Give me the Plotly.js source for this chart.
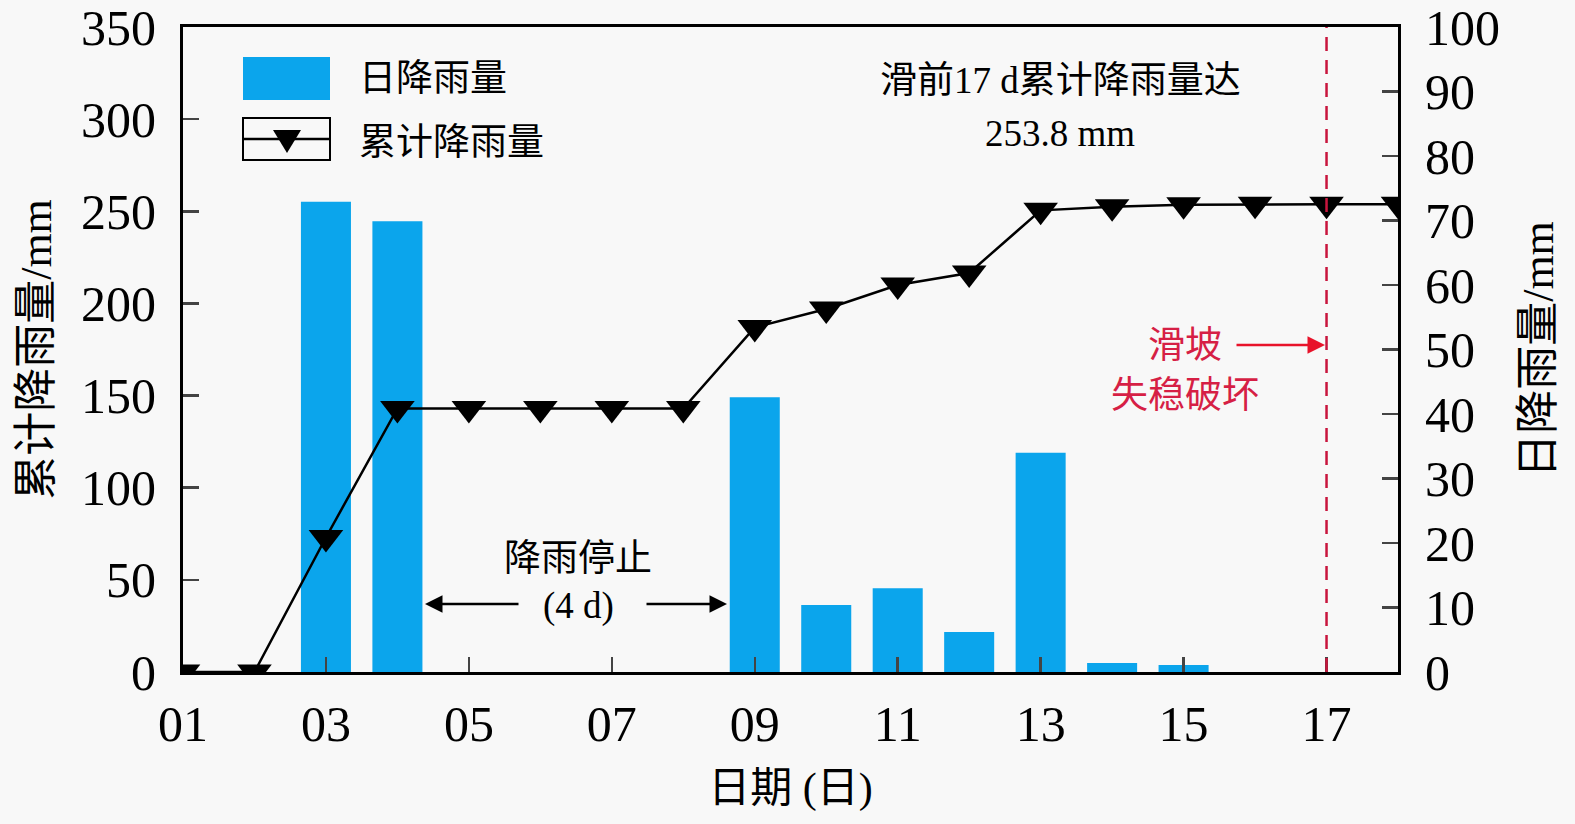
<!DOCTYPE html>
<html>
<head>
<meta charset="utf-8">
<script src="https://cdn.plot.ly/plotly-3.0.1.min.js"></script>
<style>
  html, body { margin: 0; padding: 0; background: #f8f8f8; }
  #chart { width: 1575px; height: 824px; }
</style>
</head>
<body>
<div id="chart"></div>
<script>
// days of the month
var days = [1, 2, 3, 4, 5, 6, 7, 8, 9, 10, 11, 12, 13, 14, 15, 16, 17, 18];
// daily rainfall (mm), right axis
var dailyRain = [0, 0, 72.9, 69.9, 0, 0, 0, 0, 42.6, 10.4, 13.0, 6.2, 34.0, 1.4, 1.1, 0, 0, 0];
// cumulative rainfall (mm), left axis
var cumRain = [0, 0, 73, 143, 143, 143, 143, 143, 187, 197, 210, 216.5, 250.5, 252.5, 253.5, 253.8, 253.8, 253.8];
var xTickVals = [1, 3, 5, 7, 9, 11, 13, 15, 17];
var xTickText = ['01', '03', '05', '07', '09', '11', '13', '15', '17'];
var failureDay = 17;

var FONT = 'Liberation Serif, "Noto Sans CJK SC", serif';
var BLUE = '#0ba5ec';
var RED = '#d61f45';

//-----daily bars------
var bars = {
    x: days,
    y: dailyRain,
    type: 'bar',
    yaxis: 'y',
    width: 0.7,
    marker: { color: BLUE, line: { width: 0 } },
    name: '日降雨量'
};

//-----cumulative line------
var line = {
    x: days,
    y: cumRain,
    type: 'scatter',
    mode: 'lines+markers',
    yaxis: 'y2',
    line: { color: 'black', width: 2.5 },
    marker: { symbol: 'triangle-down', size: 30, color: 'black' },
    name: '累计降雨量'
};

// paper coords helpers for the plot box (183..1398, 27..672)
function px(x) { return (x - 183) / 1215; }
function py(y) { return (672 - y) / 645; }

function label(x, y, text, color, anchor) {
    return { xref: 'paper', yref: 'paper', x: px(x), y: py(y), text: text,
             xanchor: anchor || 'center', yanchor: 'middle', showarrow: false,
             font: { size: 37, color: color || 'black' } };
}

function arrow(xHead, y, dx, color) {
    return { xref: 'paper', yref: 'paper', x: px(xHead), y: py(y), ax: dx, ay: 0, text: '',
             showarrow: true, arrowhead: 2, arrowsize: 1.4, arrowwidth: 2.5, arrowcolor: color };
}

var shapes = [
    // failure day dashed line
    { type: 'line', xref: 'x', yref: 'paper', x0: failureDay, x1: failureDay, y0: 0, y1: 1,
      line: { color: '#c8153d', width: 2.5, dash: '14px,9px' } },
    // legend: bar swatch
    { type: 'rect', xref: 'paper', yref: 'paper', x0: px(243), x1: px(330), y0: py(100), y1: py(57),
      fillcolor: BLUE, line: { width: 0 } },
    // legend: line swatch box
    { type: 'rect', xref: 'paper', yref: 'paper', x0: px(243), x1: px(330), y0: py(160), y1: py(118),
      fillcolor: 'rgba(0,0,0,0)', line: { color: 'black', width: 2 } },
    { type: 'line', xref: 'paper', yref: 'paper', x0: px(243), x1: px(330), y0: py(139), y1: py(139),
      line: { color: 'black', width: 2.5 } },
    { type: 'path', xref: 'paper', yref: 'paper',
      path: 'M' + px(273) + ',' + py(130) + ' L' + px(301) + ',' + py(130) + ' L' + px(287) + ',' + py(153) + ' Z',
      fillcolor: 'black', line: { width: 0 } }
];

var annotations = [
    label(357, 78, '日降雨量', 'black', 'left'),
    label(357, 142, '累计降雨量', 'black', 'left'),
    label(1060, 80, '滑前17 d累计降雨量达'),
    label(1060, 133, '253.8 mm'),
    label(1185, 345, '滑坡', RED),
    label(1185, 395, '失稳破坏', RED),
    arrow(1325, 345, -90, '#e8132a'),
    label(578, 558, '降雨停止'),
    label(578, 606, '(4 d)'),
    arrow(425, 604, 95, 'black'),
    arrow(727, 604, -82, 'black')
];

var layout = {
    width: 1575,
    height: 824,
    margin: { l: 183, r: 177, t: 27, b: 152 },
    paper_bgcolor: '#f8f8f8',
    plot_bgcolor: '#f8f8f8',
    font: { family: FONT, size: 50, color: 'black' },
    showlegend: false,
    xaxis: {
        range: [1, 18],
        tickvals: xTickVals,
        ticktext: xTickText,
        ticks: 'inside',
        ticklen: 15,
        tickwidth: 2.5,
        ticklabelstandoff: 6,
        showline: true,
        linewidth: 3,
        linecolor: 'black',
        mirror: true,
        showgrid: false,
        zeroline: false,
        tickfont: { size: 50 },
        title: { text: '日期 (日)', font: { size: 42 }, standoff: 22 }
    },
    yaxis: {
        side: 'right',
        range: [0, 100],
        dtick: 10,
        ticks: 'inside',
        ticklen: 16,
        tickwidth: 2.5,
        ticklabelstandoff: 14,
        ticklabeloverflow: 'allow',
        showline: true,
        linewidth: 3,
        linecolor: 'black',
        showgrid: false,
        zeroline: false,
        tickfont: { size: 50 },
        title: { text: '日降雨量/mm', font: { size: 44 }, standoff: 24 }
    },
    yaxis2: {
        overlaying: 'y',
        side: 'left',
        range: [0, 350],
        dtick: 50,
        ticks: 'inside',
        ticklen: 16,
        tickwidth: 2.5,
        ticklabelstandoff: 14,
        ticklabeloverflow: 'allow',
        showline: true,
        linewidth: 3,
        linecolor: 'black',
        showgrid: false,
        zeroline: false,
        tickfont: { size: 50 },
        title: { text: '累计降雨量/mm', font: { size: 44 }, standoff: 16 }
    },
    shapes: shapes,
    annotations: annotations
};

Plotly.newPlot('chart', [bars, line], layout, { displayModeBar: false, staticPlot: true });
</script>
</body>
</html>
